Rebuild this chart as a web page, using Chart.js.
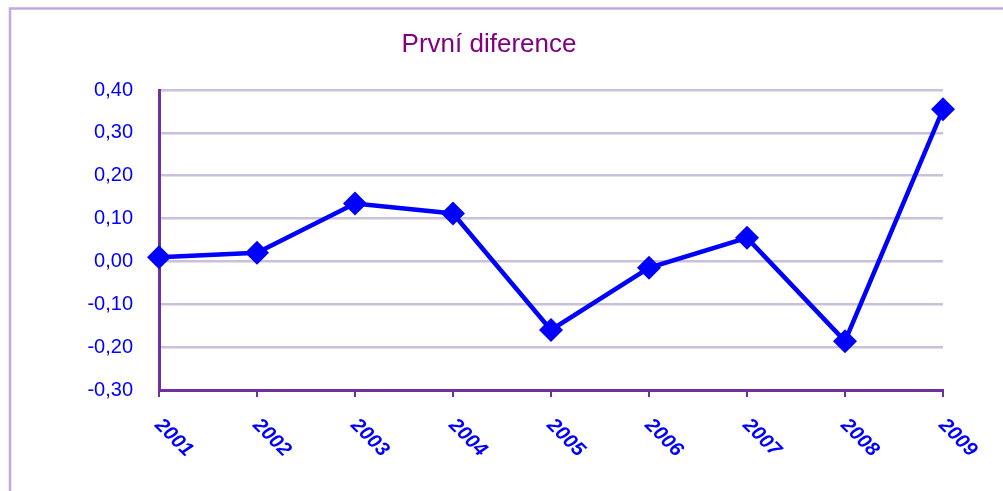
<!DOCTYPE html>
<html>
<head>
<meta charset="utf-8">
<script src="https://cdn.jsdelivr.net/npm/chart.js@4"></script>
<style>
    html, body { margin: 0; padding: 0; background: #fff; }
    #wrap { width: 1003px; height: 491px; position: relative; }
</style>
</head>
<body>
<div id="wrap"><canvas id="chart" width="1003" height="491"></canvas></div>
<script>
    var years = ['2001', '2002', '2003', '2004', '2005', '2006', '2007', '2008', '2009'];
    var diffValues = [0.01, 0.02, 0.135, 0.112, -0.16, -0.015, 0.055, -0.186, 0.355];
    var titleText = 'První diference';

    var blue = '#0000FF';
    var purple = '#7030A0';

    // frame, title and rotated year labels
    var decorations = {
        id: 'decorations',
        beforeDraw: function(chart) {
            var ctx = chart.ctx;
            ctx.save();
            ctx.strokeStyle = '#C0AADB';
            ctx.lineWidth = 2.5;
            ctx.beginPath();
            ctx.moveTo(10, 491);
            ctx.lineTo(10, 8.5);
            ctx.lineTo(1003, 8.5);
            ctx.stroke();
            ctx.restore();
        },
        afterDraw: function(chart) {
            var ctx = chart.ctx;
            var xs = chart.scales.x;
            ctx.save();
            ctx.fillStyle = '#800080';
            ctx.font = '26px "Liberation Sans", Arial, sans-serif';
            ctx.textAlign = 'center';
            ctx.textBaseline = 'middle';
            ctx.fillText(titleText, 489, 45);

            ctx.fillStyle = blue;
            ctx.font = 'italic bold 20px "Liberation Sans", Arial, sans-serif';
            ctx.textAlign = 'left';
            ctx.textBaseline = 'middle';
            var base = chart.chartArea.bottom;
            years.forEach(function(y, i) {
                var px = xs.getPixelForTick(i);
                ctx.save();
                ctx.translate(px - 1, base + 32);
                ctx.rotate(Math.PI / 4);
                ctx.fillText(y, 0, 0);
                ctx.restore();
            });
            ctx.restore();
        }
    };

    new Chart(document.getElementById('chart'), {
        type: 'line',
        data: {
            labels: years,
            datasets: [{
                data: diffValues,
                borderColor: blue,
                backgroundColor: blue,
                borderWidth: 4.5,
                pointStyle: 'rectRot',
                pointRadius: 12,
                pointHoverRadius: 12,
                pointBorderWidth: 0,
                tension: 0,
                clip: false
            }]
        },
        options: {
            responsive: false,
            animation: false,
            layout: { padding: { top: 90, right: 60, bottom: 101, left: 0 } },
            plugins: {
                legend: { display: false },
                tooltip: { enabled: false }
            },
            scales: {
                x: {
                    offset: false,
                    afterFit: function(scale) { scale.height = 0; },
                    ticks: { display: false },
                    grid: {
                        drawOnChartArea: false,
                        drawTicks: true,
                        tickLength: 7,
                        color: purple,
                        lineWidth: 2
                    },
                    border: { color: purple, width: 3 }
                },
                y: {
                    min: -0.3,
                    max: 0.4,
                    afterFit: function(scale) { scale.width = 159; },
                    ticks: {
                        stepSize: 0.1,
                        color: blue,
                        padding: 26,
                        font: { family: '"Liberation Sans", Arial, sans-serif', size: 20 },
                        callback: function(v) { return v.toFixed(2).replace('.', ','); }
                    },
                    grid: {
                        color: '#CBC0DA',
                        lineWidth: 2.5,
                        drawTicks: false
                    },
                    border: { color: purple, width: 3 }
                }
            }
        },
        plugins: [decorations]
    });
</script>
</body>
</html>
